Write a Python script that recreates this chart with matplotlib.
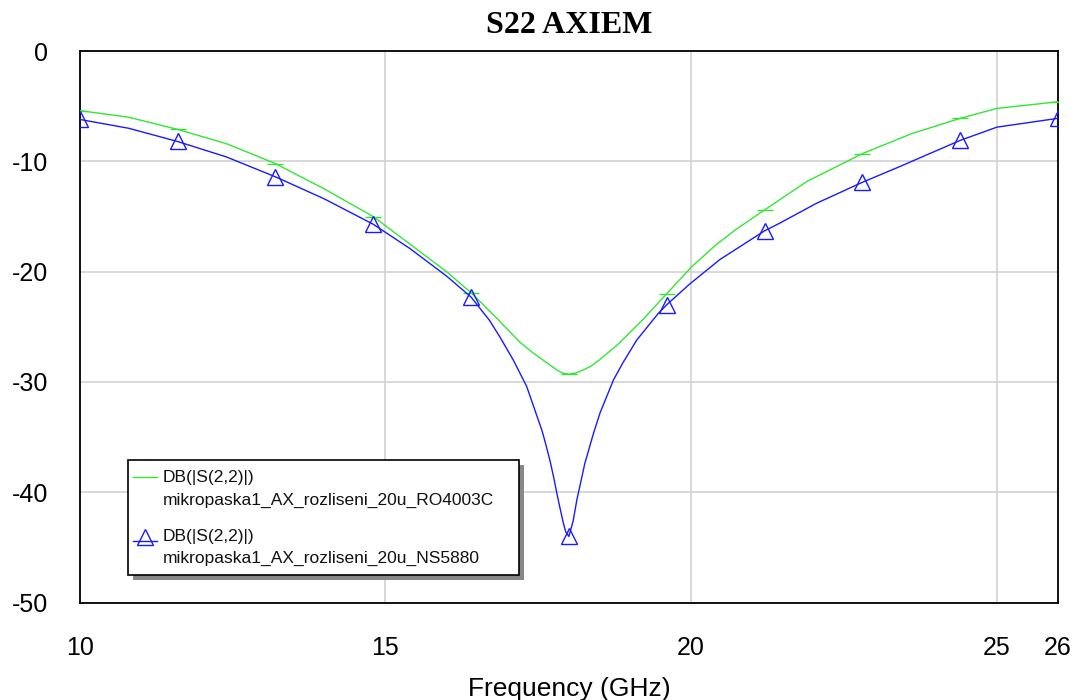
import numpy as np
import matplotlib
matplotlib.use("Agg")
import matplotlib.pyplot as plt
from matplotlib.patches import Rectangle
from matplotlib.lines import Line2D

plt.rcParams['font.family'] = ['Liberation Sans', 'DejaVu Sans']
plt.rcParams['axes.unicode_minus'] = False

# data (GHz, dB)
freq_ro = [10.0, 10.8, 11.6, 12.4, 13.2, 14.0, 14.8, 15.4, 16.0, 16.4, 16.8, 17.2, 17.4, 17.6,
           17.8, 17.9, 18.0, 18.1, 18.2, 18.35, 18.5, 18.8, 19.2, 19.6, 20.0, 20.4, 20.7, 21.2,
           21.9, 22.8, 23.6, 24.4, 25.0, 26.0]
s22_ro = [-5.4, -6.0, -7.1, -8.4, -10.2, -12.5, -15.0, -17.5, -20.0, -21.9, -24.1, -26.4, -27.3, -28.1,
          -28.9, -29.2, -29.3, -29.2, -29.0, -28.6, -28.0, -26.6, -24.4, -22.0, -19.6, -17.6, -16.3, -14.4,
          -11.8, -9.3, -7.5, -6.1, -5.2, -4.6]

freq_ns = [10.0, 10.8, 11.6, 12.4, 13.2, 14.0, 14.8, 15.4, 16.0, 16.4, 16.7, 16.87, 17.09, 17.2,
           17.31, 17.46, 17.56, 17.62, 17.69, 17.75, 17.8, 17.85, 17.91, 17.95, 18.0, 18.07, 18.13,
           18.26, 18.4, 18.51, 18.73, 18.89, 19.11, 19.46, 19.6, 19.98, 20.47, 21.2, 21.45, 22.05,
           22.8, 23.4, 24.4, 25.0, 26.0]
s22_ns = [-6.2, -7.0, -8.2, -9.6, -11.4, -13.4, -15.7, -17.9, -20.4, -22.3, -24.4, -25.9, -28.0, -29.2,
          -30.4, -32.8, -34.4, -35.6, -37.1, -38.6, -40.0, -41.3, -42.8, -43.6, -44.0, -42.6, -40.7,
          -37.4, -34.7, -32.8, -29.8, -28.2, -26.2, -23.8, -23.0, -21.1, -18.9, -16.3, -15.6, -13.8,
          -11.9, -10.5, -8.1, -6.9, -6.1]

marker_freq = [10.0, 11.6, 13.2, 14.8, 16.4, 18.0, 19.6, 21.2, 22.8, 24.4, 26.0]

xticks = [10, 15, 20, 25, 26]
yticks = [0, -10, -20, -30, -40, -50]
label_top = "DB(|S(2,2)|)"
label_ro = "mikropaska1_AX_rozliseni_20u_RO4003C"
label_ns = "mikropaska1_AX_rozliseni_20u_NS5880"

green = '#33e633'
blue = '#1a1aff'


def mark_idx(f):
    f = np.asarray(f)
    return [int(np.argmin(np.abs(f - m))) for m in marker_freq]


fig = plt.figure(figsize=(10.77, 7), dpi=100)
ax = fig.add_axes([0.0740, 0.1391, 0.9084, 0.788])

ax.plot(freq_ro, s22_ro, color=green, lw=1.0, marker='_', ms=12, mew=1.0,
        markevery=mark_idx(freq_ro), zorder=3)
ax.plot(freq_ns, s22_ns, color=blue, lw=1.0, marker='^', ms=12, mew=1.0, mfc='none',
        markevery=mark_idx(freq_ns), zorder=4)

ax.set_xlim(10, 26)
ax.set_ylim(-50, 0)
ax.set_xticks(xticks)
ax.set_yticks(yticks)
ax.tick_params(length=0, labelsize=18)
ax.tick_params(axis='x', pad=24)
ax.tick_params(axis='y', pad=23)
ax.grid(True, color='#d2d2d2', lw=1.2)
ax.set_axisbelow(True)
for s in ax.spines.values():
    s.set_linewidth(1.3)
    s.set_color('black')

ax.set_xlabel("Frequency (GHz)", fontsize=19, labelpad=12)
ax.set_title("S22 AXIEM", fontsize=23, fontweight='bold',
             family=['Liberation Serif', 'DejaVu Serif'], pad=13)

# legend box, drawn by hand (handle sits on the first label line)
x0, x1, y0, y1 = 0.0494, 0.449, 0.050, 0.2585
ax.add_patch(Rectangle((x0 + 0.0051, y0 - 0.0091), x1 - x0, y1 - y0, transform=ax.transAxes,
                       facecolor='#888888', edgecolor='none', zorder=9, clip_on=False))
ax.add_patch(Rectangle((x0, y0), x1 - x0, y1 - y0, transform=ax.transAxes,
                       facecolor='white', edgecolor='black', lw=1.2, zorder=10, clip_on=False))
ax.add_line(Line2D([0.0545, 0.0790], [0.2277, 0.2277], transform=ax.transAxes,
                   color=green, lw=1.0, zorder=11))
ax.add_line(Line2D([0.0545, 0.0790], [0.112, 0.112], transform=ax.transAxes,
                   color=blue, lw=1.0, zorder=11))
ax.add_line(Line2D([0.0667], [0.119], transform=ax.transAxes, color=blue,
                   marker='^', ms=12, mfc='none', mew=1.0, zorder=11))
tx = 0.0851
for yy, txt in [(0.2277, label_top), (0.186, label_ro), (0.119, label_top), (0.0809, label_ns)]:
    ax.text(tx, yy, txt, transform=ax.transAxes, fontsize=12.5, va='center', ha='left',
            color='#111111', zorder=12)

fig.savefig("out.png", dpi=100)
